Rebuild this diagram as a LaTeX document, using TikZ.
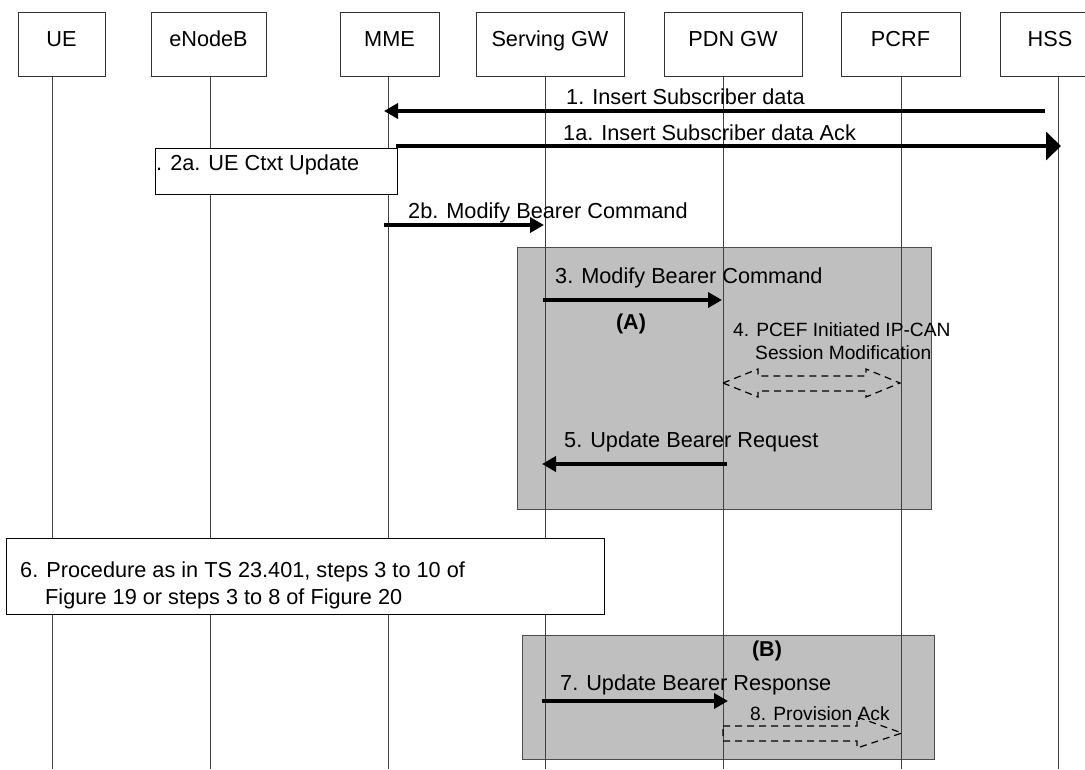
\documentclass[tikz,border=0pt]{standalone}
\usepackage{fontspec}
\setmainfont{Liberation Sans}
\usetikzlibrary{arrows.meta}
\begin{document}
\begin{tikzpicture}[x=1pt,y=-1pt,
  lbl/.style={inner sep=0pt, anchor=base west, font=\fontsize{21.7}{27.7}\selectfont},
  small/.style={inner sep=0pt, anchor=base west, font=\fontsize{19.2}{23}\selectfont},
  tag/.style={inner sep=0pt, anchor=base, font=\fontsize{21.5}{26}\selectfont\bfseries},
  hdrbox/.style={draw=black!80, line width=1pt, fill=white, minimum height=64pt, inner sep=0pt},
  hdrtxt/.style={inner sep=0pt, anchor=base, font=\fontsize{21.7}{26}\selectfont},
  life/.style={draw=black!75, line width=1pt},
  msg/.style={line width=4pt, -{Triangle[length=14pt,width=15pt]}},
  bigmsg/.style={line width=4pt, -{Triangle[length=15pt,width=28pt]}},
  grayzone/.style={draw=black!70, line width=1.2pt, fill=black!25, inner sep=0pt, anchor=north west},
  note/.style={draw=black, line width=1.2pt, fill=white, inner sep=0pt, anchor=north west},
  hollow/.style={draw=black, line width=1.2pt, dash pattern=on 7pt off 5pt},
]
\useasboundingbox (0,0) rectangle (1085,769);

% shaded procedure regions (A) and (B)
\node[grayzone, minimum width=414pt, minimum height=262pt] (zoneA) at (517,247) {};
\node[grayzone, minimum width=412pt, minimum height=124pt] (zoneB) at (522,635) {};

% lifelines
\foreach \n/\x in {ue/52, enb/210, mme/388, sgw/545, pgw/723, pcrf/901, hss/1058} {
  \coordinate (\n top) at (\x,76);
  \coordinate (\n bot) at (\x,769);
  \draw[life] (\n top) -- (\n bot);
}

% entity headers
\node[hdrbox, minimum width=87pt]  (ue)   at (61.5,44) {};
\node[hdrbox, minimum width=115pt] (enb)  at (208.5,44) {};
\node[hdrbox, minimum width=99pt]  (mme)  at (389.5,44) {};
\node[hdrbox, minimum width=148pt] (sgw)  at (550,44) {};
\node[hdrbox, minimum width=138pt] (pgw)  at (733,44) {};
\node[hdrbox, minimum width=119pt] (pcrf) at (900.5,44) {};
\node[hdrbox, minimum width=100pt] (hss)  at (1050,44) {};
\node[hdrtxt] (tue)   at (61.5,46)  {UE};
\node[hdrtxt] (tenb)  at (208.5,46) {eNodeB};
\node[hdrtxt] (tmme)  at (389.5,46) {MME};
\node[hdrtxt] (tsgw)  at (550,46)   {Serving GW};
\node[hdrtxt] (tpgw)  at (733,46)   {PDN GW};
\node[hdrtxt] (tpcrf) at (900.5,46) {PCRF};
\node[hdrtxt] (thss)  at (1050,46)  {HSS};

% local procedure boxes
\node[note, minimum width=242pt, minimum height=46pt] (n2a) at (155,148) {};
\node[lbl] (t2a) at (156,170) {. 2a. UE Ctxt Update};
\node[note, minimum width=598pt, minimum height=76pt] (n6) at (6,538) {};
\node[lbl] (t6a) at (20,577) {6. Procedure as in TS 23.401, steps 3 to 10 of};
\node[lbl] (t6b) at (45,604) {Figure 19 or steps 3 to 8 of Figure 20};

% message end points
\coordinate (m1s) at (1045,111);  \coordinate (m1e) at (384,111);
\coordinate (m1as) at (396,146);  \coordinate (m1ae) at (1061,146);
\coordinate (m2bs) at (384,225);  \coordinate (m2be) at (544,225);
\coordinate (m3s) at (543,300);   \coordinate (m3e) at (722,300);
\coordinate (m5s) at (727,464);   \coordinate (m5e) at (542,464);
\coordinate (m7s) at (542,701);   \coordinate (m7e) at (728,701);

% messages
\draw[msg] (m1s) -- (m1e);
\node[lbl] (t1) at (566,104) {1. Insert Subscriber data};
\draw[bigmsg] (m1as) -- (m1ae);
\node[lbl] (t1a) at (563,140) {1a. Insert Subscriber data Ack};
\draw[msg] (m2bs) -- (m2be);
\node[lbl] (t2b) at (408,218) {2b. Modify Bearer Command};
\draw[msg] (m3s) -- (m3e);
\node[lbl] (t3) at (555,283) {3. Modify Bearer Command};
\node[tag] (tA) at (631,329.5) {(A)};
\node[small] (t4a) at (733,336) {4. PCEF Initiated IP-CAN};
\node[small] (t4b) at (755,359) {Session Modification};
\draw[hollow] (723,383) -- (758,369) -- (758,376) -- (866,376) -- (866,369)
  -- (900,383) -- (866,397) -- (866,391) -- (758,391) -- (758,397) -- cycle;
\draw[msg] (m5s) -- (m5e);
\node[lbl] (t5) at (564,447) {5. Update Bearer Request};
\node[tag] (tB) at (767,656.5) {(B)};
\draw[msg] (m7s) -- (m7e);
\node[lbl] (t7) at (560,690) {7. Update Bearer Response};
\node[small] (t8) at (750,720) {8. Provision Ack};
\draw[hollow] (723,726) -- (857,726) -- (857,717) -- (902,733) -- (857,748)
  -- (857,741) -- (723,741) -- cycle;
\end{tikzpicture}
\end{document}
